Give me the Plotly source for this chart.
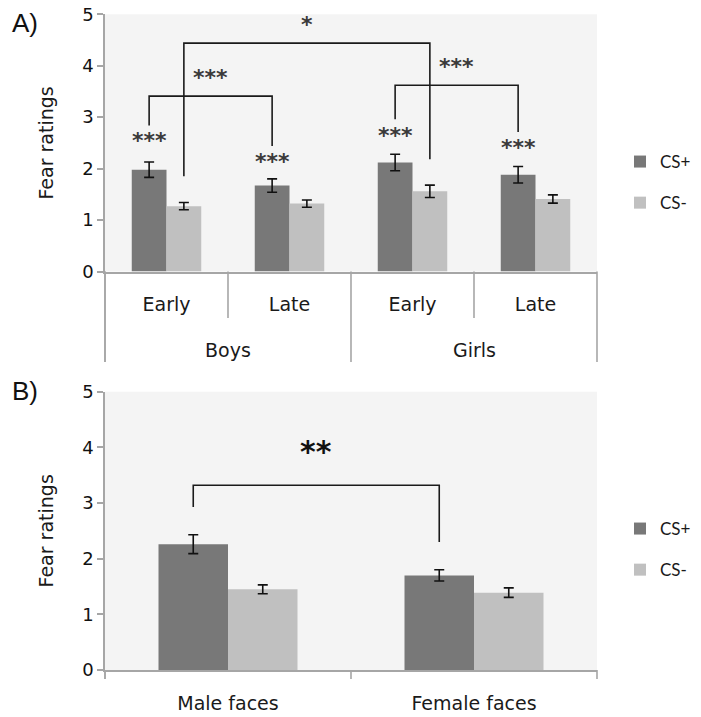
import plotly.graph_objects as go

# ---------------- data ----------------
series_names = ["CS+", "CS-"]
series_colors = ["#787878", "#c0c0c0"]

# Panel A
a_inner = ["Early", "Late", "Early", "Late"]
a_outer = ["Boys", "Boys", "Girls", "Girls"]
a_cs_plus = [1.98, 1.67, 2.12, 1.88]
a_cs_plus_err = [0.15, 0.13, 0.16, 0.16]
a_cs_minus = [1.27, 1.32, 1.56, 1.41]
a_cs_minus_err = [0.07, 0.07, 0.12, 0.08]
a_bar_star_y = [2.55, 2.13, 2.65, 2.41]
a_bar_star_text = ["***", "***", "***", "***"]

# brackets in panel A: (group index, series index) endpoints
a_br_left = [(0, 0), (0, 1), (2, 0)]
a_br_right = [(1, 0), (2, 1), (3, 0)]
a_br_top = [3.41, 4.44, 3.62]
a_br_left_bottom = [2.84, 1.85, 2.96]
a_br_right_bottom = [2.44, 2.18, 2.71]
a_br_label = ["***", "*", "***"]
a_br_label_y = [3.78, 4.81, 3.99]

# Panel B
b_cats = ["Male faces", "Female faces"]
b_cs_plus = [2.26, 1.70]
b_cs_plus_err = [0.17, 0.10]
b_cs_minus = [1.45, 1.39]
b_cs_minus_err = [0.08, 0.085]
b_br_left = [(0, 0)]
b_br_right = [(1, 0)]
b_br_top = [3.32]
b_br_left_bottom = [2.93]
b_br_right_bottom = [2.30]
b_br_label = ["**"]
b_br_label_y = [3.92]

y_ticks = [0, 1, 2, 3, 4, 5]

# ---------------- style ----------------
W, H = 701, 717
FONT = "DejaVu Sans"
AXIS_GRAY = "#a6a6a6"
BG = "#f4f4f4"
BARGAP = 0.435
bar_w = (1 - BARGAP) / 2
ser_off = [-bar_w / 2, bar_w / 2]

xdom = [105 / W, 597 / W]
a_top, a_bot = 14.3, 271.5
b_top, b_bot = 391.7, 670.0
ydomA = [1 - a_bot / H, 1 - a_top / H]
ydomB = [1 - b_bot / H, 1 - b_top / H]
a_hpx = a_bot - a_top
b_hpx = b_bot - b_top

fig = go.Figure()

a_x = list(range(len(a_inner)))
b_x = list(range(len(b_cats)))

a_vals = [(a_cs_plus, a_cs_plus_err), (a_cs_minus, a_cs_minus_err)]
b_vals = [(b_cs_plus, b_cs_plus_err), (b_cs_minus, b_cs_minus_err)]

for i, name in enumerate(series_names):
    v, e = a_vals[i]
    fig.add_trace(go.Bar(
        x=a_x, y=v, name=name, marker=dict(color=series_colors[i], line=dict(width=0)),
        error_y=dict(type="data", array=e, visible=True, color="#111111", thickness=1.6, width=5),
        xaxis="x", yaxis="y", legend="legend", legendgroup="a" + name,
    ))
for i, name in enumerate(series_names):
    v, e = b_vals[i]
    fig.add_trace(go.Bar(
        x=b_x, y=v, name=name, marker=dict(color=series_colors[i], line=dict(width=0)),
        error_y=dict(type="data", array=e, visible=True, color="#111111", thickness=1.6, width=5),
        xaxis="x2", yaxis="y2", legend="legend2", legendgroup="b" + name,
    ))


def add_brackets(lefts, rights, tops, lb, rb, labels, label_y, xa, ya, star_font):
    for k in range(len(lefts)):
        gl, sl = lefts[k]
        gr, sr = rights[k]
        xl = gl + ser_off[sl]
        xr = gr + ser_off[sr]
        fig.add_trace(go.Scatter(
            x=[xl, xl, xr, xr], y=[lb[k], tops[k], tops[k], rb[k]], mode="lines",
            line=dict(color="#1a1a1a", width=1.6), showlegend=False, hoverinfo="skip",
            xaxis=xa, yaxis=ya,
        ))
        fig.add_annotation(x=(xl + xr) / 2, y=label_y[k], xref=xa, yref=ya, text="<b>" + labels[k] + "</b>",
                           showarrow=False, font=star_font, yanchor="middle")


starA = dict(family=FONT, size=22, color="#3a3a3a")
starB = dict(family=FONT, size=30, color="#111111")
add_brackets(a_br_left, a_br_right, a_br_top, a_br_left_bottom, a_br_right_bottom,
             a_br_label, a_br_label_y, "x", "y", starA)
add_brackets(b_br_left, b_br_right, b_br_top, b_br_left_bottom, b_br_right_bottom,
             b_br_label, b_br_label_y, "x2", "y2", starB)

for k in range(len(a_x)):
    fig.add_annotation(x=a_x[k] + ser_off[0], y=a_bar_star_y[k], xref="x", yref="y",
                       text="<b>" + a_bar_star_text[k] + "</b>", showarrow=False, font=starA,
                       yanchor="middle")

# outer category labels for panel A
outer_groups = []
for k, g in enumerate(a_outer):
    if not outer_groups or outer_groups[-1][0] != g:
        outer_groups.append([g, k, k])
    else:
        outer_groups[-1][2] = k
for g, k0, k1 in outer_groups:
    fig.add_annotation(x=(k0 + k1) / 2, y=-(350 - a_bot) / a_hpx, xref="x", yref="y domain",
                       text=g, showarrow=False, font=dict(family=FONT, size=19, color="#1a1a1a"),
                       yanchor="middle")

# divider lines below the category axis of panel A
a_min, a_max = -0.5, len(a_x) - 0.5
line_style = dict(color=AXIS_GRAY, width=1.6)
for k in range(len(a_x) + 1):
    bx = k - 0.5
    fx = (bx - a_min) / (a_max - a_min)
    outer_edge = (k == 0 or k == len(a_x) or a_outer[k] != a_outer[k - 1])
    depth = (362 - a_bot) if outer_edge else (318 - a_bot)
    fig.add_shape(type="line", xref="x domain", yref="y domain", x0=fx, x1=fx,
                  y0=0, y1=-depth / a_hpx, line=line_style)

# tick marks on the category axis of panel B
b_min, b_max = -0.5, len(b_x) - 0.5
for k in range(len(b_x) + 1):
    fx = ((k - 0.5) - b_min) / (b_max - b_min)
    fig.add_shape(type="line", xref="x2 domain", yref="y2 domain", x0=fx, x1=fx,
                  y0=0, y1=-9 / b_hpx, line=line_style)

# panel letters
for txt, py in [("A)", 23.5), ("B)", 391.5)]:
    fig.add_annotation(x=25 / W, y=1 - py / H, xref="paper", yref="paper", text=txt,
                       showarrow=False, font=dict(family="Liberation Sans", size=26, color="#111111"),
                       xanchor="center", yanchor="middle")

tickfont = dict(family=FONT, size=18, color="#111111")
catfont = dict(family=FONT, size=19, color="#1a1a1a")
titlefont = dict(family=FONT, size=19, color="#1a1a1a")

common_y = dict(range=[0, 5], tickvals=y_ticks, ticks="outside", ticklen=6, tickwidth=1.6,
                tickcolor=AXIS_GRAY, showline=True, linecolor=AXIS_GRAY, linewidth=1.6,
                showgrid=False, zeroline=False, tickfont=tickfont, fixedrange=True,
                automargin=False,
                title=dict(text="Fear ratings", font=titlefont, standoff=23))
common_x = dict(showline=True, linecolor=AXIS_GRAY, linewidth=1.6, showgrid=False, zeroline=False,
                ticks="outside", ticklen=0, tickcolor="rgba(0,0,0,0)", tickfont=catfont,
                fixedrange=True, ticklabelstandoff=15, automargin=False)

legend_common = dict(xanchor="left", yanchor="top", tracegroupgap=16,
                     font=dict(family="Lato", size=17, color="#1a1a1a"), bgcolor="rgba(0,0,0,0)",
                     traceorder="grouped")

fig.update_layout(
    width=W, height=H, margin=dict(l=0, r=0, t=0, b=0, autoexpand=False),
    paper_bgcolor="white", plot_bgcolor=BG,
    barmode="group", bargap=BARGAP, bargroupgap=0,
    font=dict(family=FONT, color="#1a1a1a"),
    xaxis=dict(domain=xdom, anchor="y", range=[a_min, a_max], tickvals=a_x, ticktext=a_inner, **common_x),
    yaxis=dict(domain=ydomA, anchor="x", **common_y),
    xaxis2=dict(domain=xdom, anchor="y2", range=[b_min, b_max], tickvals=b_x, ticktext=b_cats, **common_x),
    yaxis2=dict(domain=ydomB, anchor="x2", **common_y),
    legend=dict(x=620 / W, y=1 - 144 / H, **legend_common),
    legend2=dict(x=620 / W, y=1 - 511 / H, **legend_common),
    showlegend=True,
)

# extend the y axis lines below the plot areas
fig.add_shape(type="line", xref="x domain", yref="y domain", x0=0, x1=0, y0=0, y1=-(362 - a_bot) / a_hpx,
              line=line_style)
fig.add_shape(type="line", xref="x2 domain", yref="y2 domain", x0=0, x1=0, y0=0, y1=-9 / b_hpx,
              line=line_style)

# remove the browser's default page margin so the figure sits at the window origin
fig.write_html("out.html", config={"displayModeBar": False},
               post_script="document.body.style.margin='0';")
